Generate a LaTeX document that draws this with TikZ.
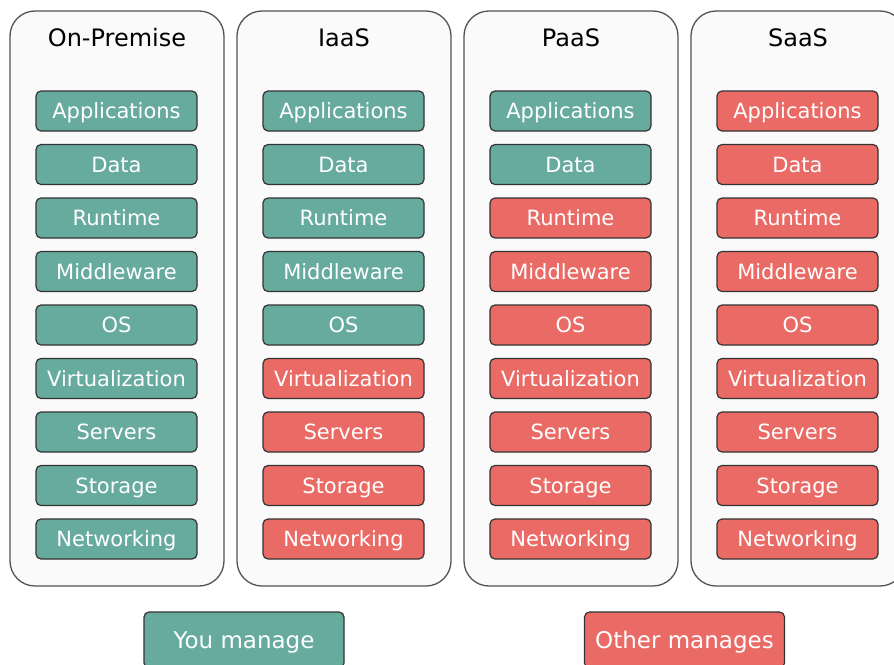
\documentclass[tikz,border=0pt]{standalone}
\usepackage{fontspec}
\setmainfont{DejaVu Sans}
\definecolor{youcol}{HTML}{67AB9F}
\definecolor{othercol}{HTML}{EA6B66}
\definecolor{panelcol}{HTML}{FAFAFA}
\definecolor{edgecol}{HTML}{333333}
\tikzset{
	panel/.style={draw=edgecol!85,fill=panelcol,line width=1.3pt,rounded corners=25pt},
	coltitle/.style={anchor=center,font=\fontsize{24}{28}\selectfont,
		text height=17.5pt,text depth=0pt,inner sep=0pt},
	layer/.style={draw=edgecol,line width=1.2pt,rounded corners=5pt,
		minimum width=161pt,minimum height=40pt,inner sep=0pt,text=white,
		text height=15.3pt,text depth=0pt,
		font=\fontsize{21}{24}\selectfont},
	youbox/.style={layer,fill=youcol},
	otherbox/.style={layer,fill=othercol},
	legendbox/.style={draw=edgecol,line width=1.2pt,rounded corners=5pt,
		minimum width=200pt,minimum height=56pt,inner sep=0pt,text=white,
		text height=16.8pt,text depth=0pt,
		font=\fontsize{23}{27}\selectfont}
}
\begin{document}
\begin{tikzpicture}[x=1pt,y=-1pt]
	\useasboundingbox (0,0) rectangle (894,664);
	% one panel per model: centre x, name, title, how many layers you manage
	\foreach \cx/\cn/\ttl/\nyou in {117/onprem/On-Premise/9,344/iaas/IaaS/5,571/paas/PaaS/2,798/saas/SaaS/0}{
		\draw[panel] (\cx-107,11) rectangle (\cx+107,586);
		\node[coltitle] (\cn-title) at (\cx,38) {\ttl};
		\foreach \r/\lab in {1/Applications,2/Data,3/Runtime,4/Middleware,5/OS,
			6/Virtualization,7/Servers,8/Storage,9/Networking}{
			\ifnum\r>\nyou\def\bst{otherbox}\else\def\bst{youbox}\fi
			\node[\bst] (\cn-\r) at (\cx-0.5,{111+53.5*(\r-1)}) {\lab};
		}
	}
	% legend
	\node[legendbox,fill=youcol] (you) at (244,640) {You manage};
	\node[legendbox,fill=othercol] (other) at (684.5,640) {Other manages};
\end{tikzpicture}
\end{document}
